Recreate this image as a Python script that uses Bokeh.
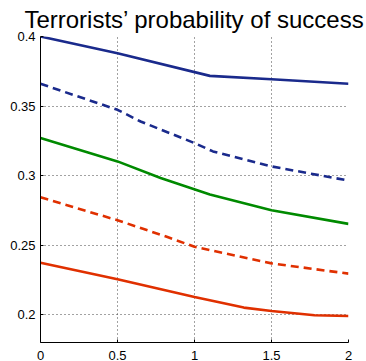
from bokeh.plotting import figure
from bokeh.models import FixedTicker, Range1d
from bokeh.embed import file_html
from bokeh.resources import INLINE

title_text = "Terrorists\u2019 probability of success"

x_ticks = [0, 0.5, 1, 1.5, 2]
x_tick_labels = ["0", "0.5", "1", "1.5", "2"]
y_ticks = [0.2, 0.25, 0.3, 0.35, 0.4]
y_tick_labels = ["0.2", "0.25", "0.3", "0.35", "0.4"]

blue_solid_x = [0, 0.5, 1.1, 1.5, 2]
blue_solid_y = [0.400, 0.388, 0.3717, 0.3693, 0.366]

blue_dash_x = [0, 0.5, 0.65, 1.0, 1.12, 1.5, 2]
blue_dash_y = [0.366, 0.3473, 0.3389, 0.3234, 0.3174, 0.3066, 0.2964]

green_x = [0, 0.5, 0.78, 1.1, 1.5, 2]
green_y = [0.327, 0.3102, 0.2983, 0.2864, 0.2751, 0.2653]

red_dash_x = [0, 0.5, 0.82, 1.0, 1.5, 2]
red_dash_y = [0.2844, 0.2679, 0.256, 0.2488, 0.2369, 0.2295]

red_solid_x = [0, 0.5, 1.0, 1.32, 1.5, 1.78, 2]
red_solid_y = [0.2374, 0.2254, 0.2127, 0.2051, 0.2027, 0.1996, 0.1991]

BLUE = "#1a2a8c"
GREEN = "#008a00"
RED = "#e03000"
FONT = "Liberation Sans"

p = figure(frame_width=308, frame_height=306, output_backend="svg", toolbar_location=None,
           x_range=Range1d(0, 2), y_range=Range1d(0.18, 0.4),
           min_border_left=40, min_border_right=17, min_border_top=0, min_border_bottom=0)

p.title.text = title_text
p.title.text_font = FONT
p.title.text_font_size = "24px"
p.title.text_font_style = "normal"
p.title.text_color = "black"
p.title.align = "center"
p.title.standoff = 7
p.title.offset = 2

p.outline_line_color = None

for ax in (p.xaxis[0], p.yaxis[0]):
    ax.major_label_text_font = FONT
    ax.major_label_text_font_size = "13px"
    ax.major_label_text_color = "black"
    ax.axis_line_color = "black"
    ax.axis_line_width = 1
    ax.major_tick_in = 3
    ax.major_tick_out = 0
    ax.major_tick_line_color = "black"
    ax.minor_tick_line_color = None

p.xaxis[0].ticker = FixedTicker(ticks=x_ticks)
p.yaxis[0].ticker = FixedTicker(ticks=y_ticks)
p.xaxis[0].major_label_overrides = dict(zip(x_ticks, x_tick_labels))
p.yaxis[0].major_label_overrides = dict(zip(y_ticks, y_tick_labels))
p.xaxis[0].major_label_standoff = 8
p.yaxis[0].major_label_standoff = 5

for g in (p.xgrid[0], p.ygrid[0]):
    g.grid_line_color = "#444444"
    g.grid_line_dash = "1 3"
    g.grid_line_width = 1

W = 2.6
p.line(blue_solid_x, blue_solid_y, line_color=BLUE, line_width=W)
p.line(blue_dash_x, blue_dash_y, line_color=BLUE, line_width=W, line_dash="8 5")
p.line(green_x, green_y, line_color=GREEN, line_width=W)
p.line(red_dash_x, red_dash_y, line_color=RED, line_width=W, line_dash="8 5")
p.line(red_solid_x, red_solid_y, line_color=RED, line_width=W)

open("out.html", "w").write(file_html(p, INLINE))
